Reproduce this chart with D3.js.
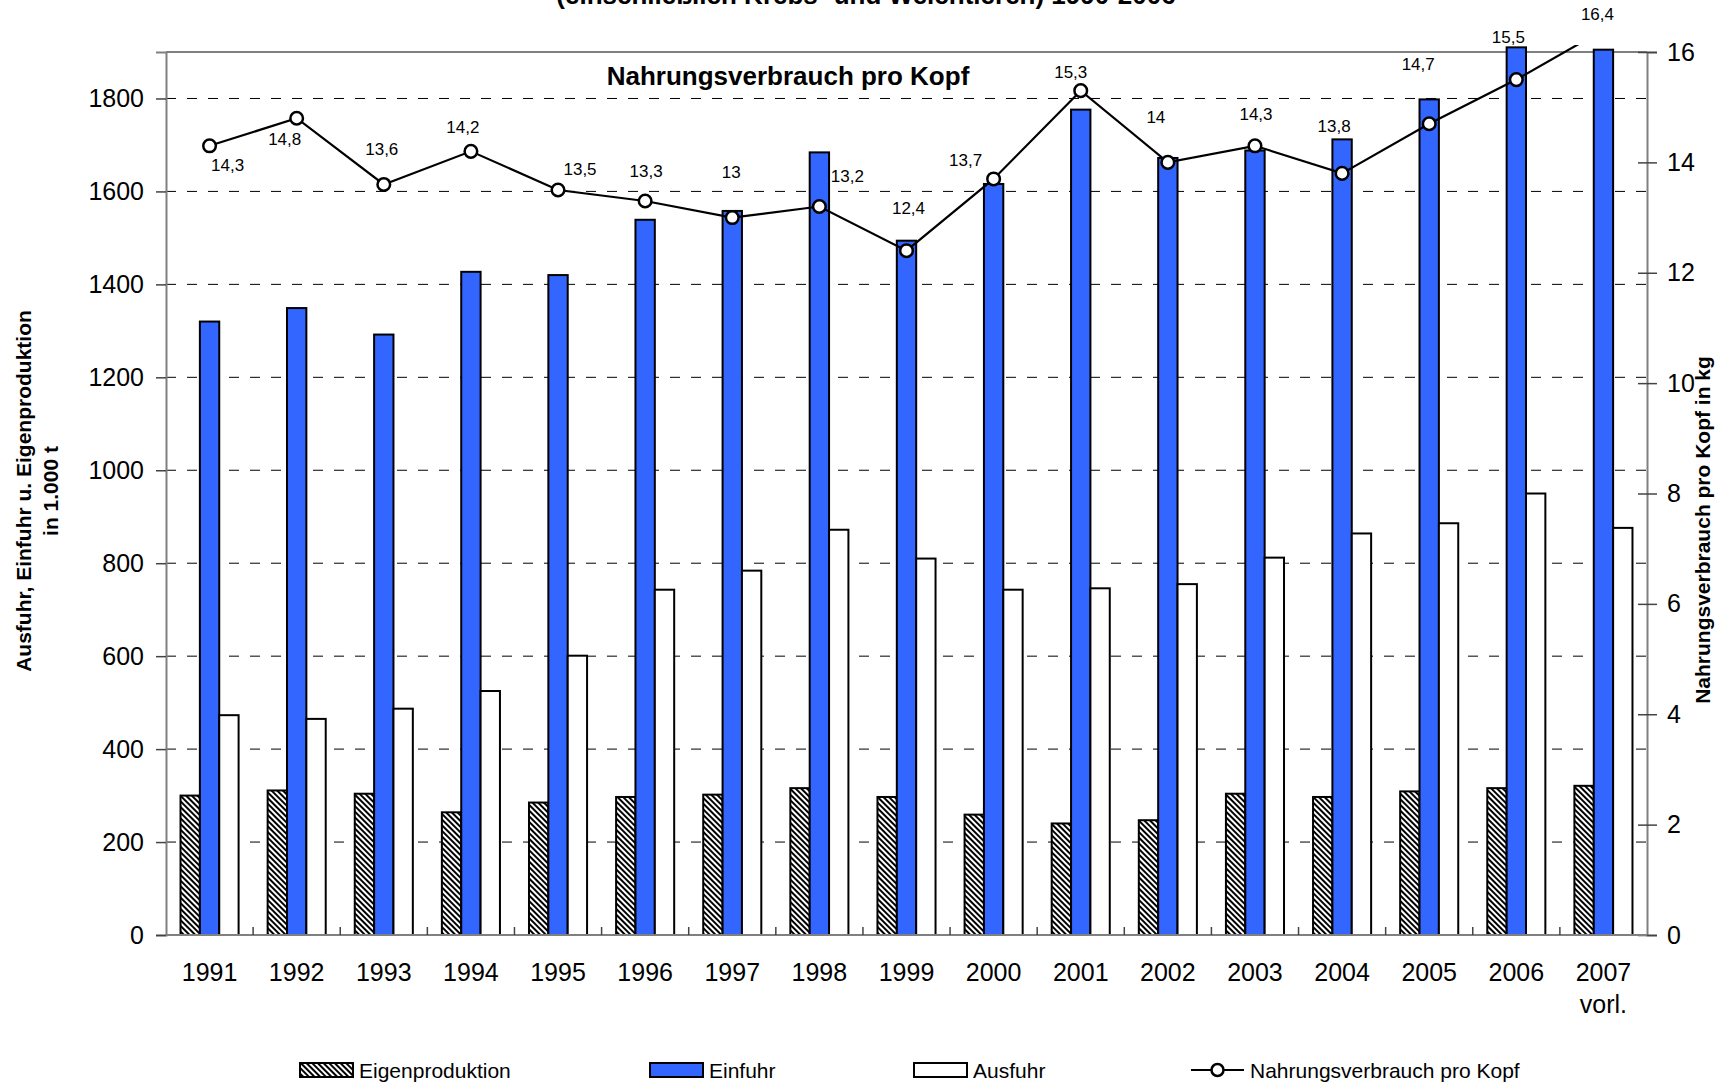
<!DOCTYPE html>
<html>
<head>
<meta charset="utf-8">
<script src="https://d3js.org/d3.v7.min.js"></script>
<style>
  html, body { margin: 0; padding: 0; background: #fff; }
  svg { display: block; font-family: "Liberation Sans", Arial, sans-serif; }
</style>
</head>
<body>
<div id="chart"></div>
<script>
// Data (1.000 t, per capita kg)
var years = ["1991","1992","1993","1994","1995","1996","1997","1998","1999",
             "2000","2001","2002","2003","2004","2005","2006","2007"];
var eigenproduktion = [300,311,304,264,285,297,302,316,297,259,240,247,304,297,309,316,321];
var einfuhr = [1320,1349,1292,1427,1420,1539,1558,1684,1494,1616,1776,1672,1688,1712,1798,1910,1905];
var ausfuhr = [473,465,487,525,601,743,784,872,810,743,746,755,812,864,886,950,876];
var proKopf = [14.3,14.8,13.6,14.2,13.5,13.3,13,13.2,12.4,13.7,15.3,14,14.3,13.8,14.7,15.5,16.4];
var leftTicks = [0,200,400,600,800,1000,1200,1400,1600,1800];
var rightTicks = [0,2,4,6,8,10,12,14,16];
var seriesNames = ["Eigenproduktion","Einfuhr","Ausfuhr"];

// label offsets from the marker (layout only)
var labelOffsets = [[18,20],[-12,21],[-2,-35],[-8,-24],[22,-20],[1,-30],[-1,-45],[28,-30],[2,-42],
                    [-28,-18],[-10,-18],[-12,-45],[1,-31],[-8,-47],[-11,-59],[-8,-42],[-6,-15]];

var W = 1731, H = 1086;
var plot = {left: 166, right: 1647, top: 52, bottom: 935};

var svg = d3.select("#chart").append("svg")
    .attr("width", W)
    .attr("height", H);

var defs = svg.append("defs");
var hatch = defs.append("pattern")
    .attr("id", "hatch")
    .attr("patternUnits", "userSpaceOnUse")
    .attr("width", 4).attr("height", 4)
    .attr("patternTransform", "rotate(-45)");
hatch.append("rect").attr("width", 4).attr("height", 4).attr("fill", "#fff");
hatch.append("rect").attr("width", 2).attr("height", 4).attr("fill", "#000");

defs.append("clipPath").attr("id", "lineClip")
  .append("rect")
    .attr("x", plot.left).attr("y", plot.top - 7)
    .attr("width", plot.right - plot.left).attr("height", plot.bottom - plot.top + 7);

// scales
var x = d3.scaleBand().domain(years).range([plot.left, plot.right]).padding(0);
var xs = d3.scaleBand().domain(seriesNames).range([0, x.bandwidth()])
    .paddingInner(0).paddingOuter(0.75);
var y = d3.scaleLinear().domain([0, 1900]).range([plot.bottom, plot.top]);
var y2 = d3.scaleLinear().domain([0, 16]).range([plot.bottom, plot.top]);

// title (cut off at the top, as in the original)
svg.append("text")
    .attr("x", 866).attr("y", 4)
    .attr("text-anchor", "middle")
    .style("font-weight", "bold").style("font-size", "26px")
    .text("(einschließlich Krebs- und Weichtieren) 1990-2006");

// gridlines
svg.append("g")
    .selectAll("line")
    .data(leftTicks.filter(function(d) { return d > 0; }))
    .enter().append("line")
    .attr("x1", plot.left).attr("x2", plot.right)
    .attr("y1", function(d) { return y(d); })
    .attr("y2", function(d) { return y(d); })
    .attr("stroke", "#000")
    .attr("stroke-width", 1)
    .attr("stroke-dasharray", "10,11");

// plot top border
svg.append("line")
    .attr("x1", plot.left).attr("x2", plot.right)
    .attr("y1", plot.top).attr("y2", plot.top)
    .attr("stroke", "#808080").attr("stroke-width", 2);

// bars
var seriesData = [eigenproduktion, einfuhr, ausfuhr];
var fills = ["url(#hatch)", "#3366ff", "#ffffff"];
seriesNames.forEach(function(name, si) {
  svg.append("g")
    .selectAll("rect")
    .data(seriesData[si])
    .enter().append("rect")
    .attr("x", function(d, i) { return x(years[i]) + xs(name); })
    .attr("y", function(d) { return y(d); })
    .attr("width", xs.bandwidth())
    .attr("height", function(d) { return y(0) - y(d); })
    .attr("fill", fills[si])
    .attr("stroke", "#000")
    .attr("stroke-width", 2);
});

// axes
var yAxis = d3.axisLeft(y).tickValues(leftTicks).tickFormat(d3.format("d"))
    .tickSize(10).tickPadding(12);
var gy = svg.append("g")
    .attr("transform", "translate(" + plot.left + ",0)")
    .call(yAxis);
gy.selectAll("text").style("font-size", "25px").attr("fill", "#000");

var yAxis2 = d3.axisRight(y2).tickValues(rightTicks).tickSize(10).tickPadding(10);
var gy2 = svg.append("g")
    .attr("transform", "translate(" + plot.right + ",0)")
    .call(yAxis2);
gy2.selectAll("text").style("font-size", "25px").attr("fill", "#000");
gy2.selectAll(".tick line").attr("x1", -9);

[gy, gy2].forEach(function(g) {
  g.select(".domain").attr("stroke", "#808080").attr("stroke-width", 2);
  g.selectAll(".tick line").attr("stroke", "#444").attr("stroke-width", 1.5);
});

// x axis line, inner ticks at category borders
svg.append("line")
    .attr("x1", plot.left).attr("x2", plot.right)
    .attr("y1", plot.bottom).attr("y2", plot.bottom)
    .attr("stroke", "#808080").attr("stroke-width", 2);
svg.append("g")
    .selectAll("line")
    .data(years.slice(1))
    .enter().append("line")
    .attr("x1", function(d) { return x(d); })
    .attr("x2", function(d) { return x(d); })
    .attr("y1", plot.bottom - 8).attr("y2", plot.bottom)
    .attr("stroke", "#444").attr("stroke-width", 1.5);

svg.append("g")
    .selectAll("text")
    .data(years)
    .enter().append("text")
    .attr("x", function(d) { return x(d) + x.bandwidth() / 2; })
    .attr("y", 981)
    .attr("text-anchor", "middle")
    .style("font-size", "25px")
    .text(function(d) { return d; });
svg.append("text")
    .attr("x", x("2007") + x.bandwidth() / 2).attr("y", 1013)
    .attr("text-anchor", "middle")
    .style("font-size", "25px")
    .text("vorl.");

// line series
var line = d3.line()
    .x(function(d, i) { return x(years[i]) + x.bandwidth() / 2; })
    .y(function(d) { return y2(d); });

var lineG = svg.append("g").attr("clip-path", "url(#lineClip)");
lineG.append("path")
    .datum(proKopf)
    .attr("d", line)
    .attr("fill", "none")
    .attr("stroke", "#000")
    .attr("stroke-width", 2.2);
lineG.selectAll("circle")
    .data(proKopf)
    .enter().append("circle")
    .attr("cx", function(d, i) { return x(years[i]) + x.bandwidth() / 2; })
    .attr("cy", function(d) { return y2(d); })
    .attr("r", 6.3)
    .attr("fill", "#fff")
    .attr("stroke", "#000")
    .attr("stroke-width", 2.5);

svg.append("g")
    .selectAll("text")
    .data(proKopf)
    .enter().append("text")
    .attr("x", function(d, i) { return x(years[i]) + x.bandwidth() / 2 + labelOffsets[i][0]; })
    .attr("y", function(d, i) { return y2(d) + labelOffsets[i][1]; })
    .attr("text-anchor", "middle")
    .attr("dominant-baseline", "central")
    .style("font-size", "17px")
    .text(function(d) { return String(d).replace(".", ","); });

// inner title
svg.append("text")
    .attr("x", 788).attr("y", 85)
    .attr("text-anchor", "middle")
    .style("font-weight", "bold").style("font-size", "26px")
    .text("Nahrungsverbrauch pro Kopf");

// axis titles
svg.append("text")
    .attr("transform", "translate(31,491) rotate(-90)")
    .attr("text-anchor", "middle")
    .style("font-weight", "bold").style("font-size", "21px")
    .text("Ausfuhr, Einfuhr u. Eigenproduktion");
svg.append("text")
    .attr("transform", "translate(58,491) rotate(-90)")
    .attr("text-anchor", "middle")
    .style("font-weight", "bold").style("font-size", "21px")
    .text("in 1.000 t");
svg.append("text")
    .attr("transform", "translate(1710,530) rotate(-90)")
    .attr("text-anchor", "middle")
    .style("font-weight", "bold").style("font-size", "21px")
    .text("Nahrungsverbrauch pro Kopf in kg");

// legend
var legendY = 1070;
var legendItems = [
  {name: "Eigenproduktion", x: 300, type: "bar", fill: "url(#hatch)"},
  {name: "Einfuhr", x: 650, type: "bar", fill: "#3366ff"},
  {name: "Ausfuhr", x: 914, type: "bar", fill: "#ffffff"},
  {name: "Nahrungsverbrauch pro Kopf", x: 1191, type: "line"}
];
var lg = svg.append("g");
legendItems.forEach(function(it) {
  if (it.type === "bar") {
    lg.append("rect")
      .attr("x", it.x).attr("y", legendY - 7)
      .attr("width", 53).attr("height", 14)
      .attr("fill", it.fill).attr("stroke", "#000").attr("stroke-width", 2);
  } else {
    lg.append("line")
      .attr("x1", it.x).attr("x2", it.x + 53)
      .attr("y1", legendY).attr("y2", legendY)
      .attr("stroke", "#000").attr("stroke-width", 2.2);
    lg.append("circle")
      .attr("cx", it.x + 26.5).attr("cy", legendY).attr("r", 6)
      .attr("fill", "#fff").attr("stroke", "#000").attr("stroke-width", 2.5);
  }
  lg.append("text")
    .attr("x", it.x + 59).attr("y", legendY)
    .attr("dominant-baseline", "central")
    .style("font-size", "21px")
    .text(it.name);
});
</script>
</body>
</html>
